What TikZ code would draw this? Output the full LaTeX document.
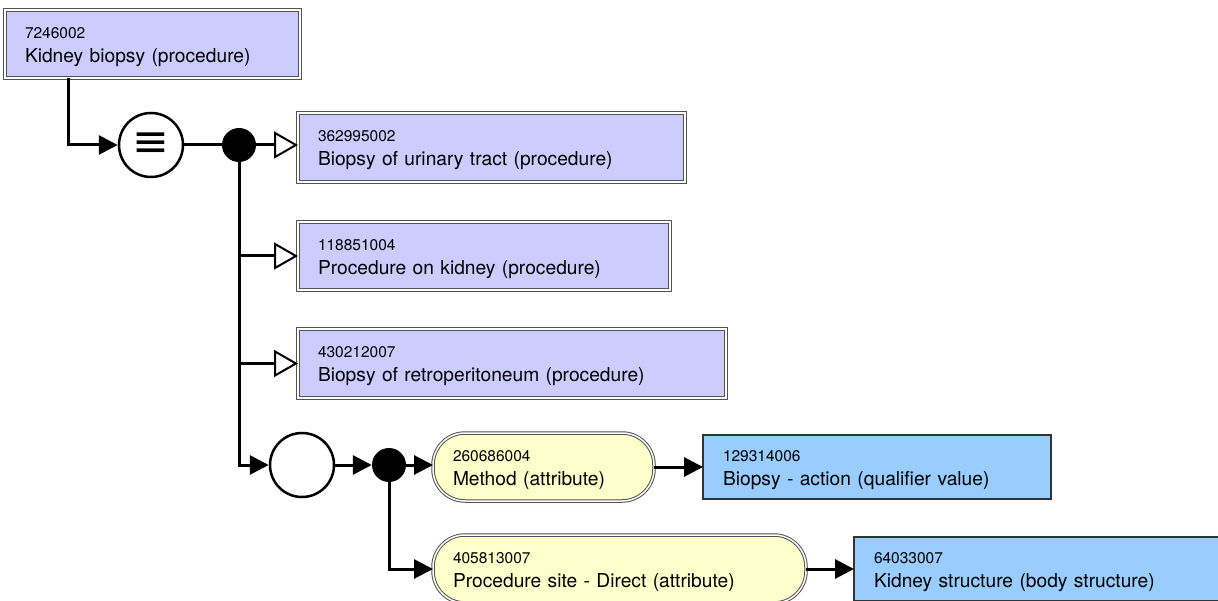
\documentclass[tikz,border=0pt]{standalone}
\usepackage{fontspec}
\setmainfont{TeX Gyre Heros}
\newfontfamily\symfont{DejaVu Sans}
\usepackage{tikz}
\usetikzlibrary{arrows.meta, positioning}

\definecolor{primfill}{HTML}{CCCCFF}
\definecolor{attrfill}{HTML}{FFFFCC}
\definecolor{valfill}{HTML}{99CCFF}
\definecolor{edgegray}{HTML}{333333}

\newcommand{\sctid}[2]{{\fontsize{15.5}{24}\selectfont\rule{0pt}{17pt}#1}\\#2}

\tikzset{
	box/.style = {anchor=north west, outer sep=0pt, inner xsep=20pt, inner ysep=0pt, align=left, font=\fontsize{19.2}{24}\selectfont},
	prim/.style = {box, fill=primfill, draw=edgegray!85, line width=1pt, double=white, double distance=1.5pt},
	attrib/.style = {prim, fill=attrfill, rounded corners=32pt},
	qval/.style = {box, fill=valfill, draw=edgegray, line width=2.5pt},
	conj/.style = {circle, draw, line width=2.5pt, fill=white, minimum size=64pt, inner sep=0pt},
	junc/.style = {circle, fill, minimum size=34pt, inner sep=0pt},
	link/.style = {line width=3pt, -{Triangle[length=19pt, width=19pt]}},
	isa/.style = {line width=3pt, -{Triangle[open, fill=white, length=24pt, width=27pt, line width=2pt]}}
}

\begin{document}
\begin{tikzpicture}[x=1pt, y=-1pt]
				\clip (0,0) rectangle (1218,601);
				\node[prim, text width=255pt, minimum height=68pt] (A) at (5,10) {\sctid{7246002}{Kidney biopsy (procedure)}};
				\node[prim, text width=347pt, minimum height=69pt] (B) at (298,113) {\sctid{362995002}{Biopsy of urinary tract (procedure)}};
				\node[prim, text width=332pt, minimum height=68pt] (C) at (298,222) {\sctid{118851004}{Procedure on kidney (procedure)}};
				\node[prim, text width=388pt, minimum height=69pt] (D) at (298,329) {\sctid{430212007}{Biopsy of retroperitoneum (procedure)}};
				\node[attrib, text width=181pt, minimum height=68pt] (E) at (433,433) {\sctid{260686004}{Method (attribute)}};
				\node[qval, text width=308pt, minimum height=64pt] (F) at (703,435) {\sctid{129314006}{Biopsy - action (qualifier value)}};
				\node[attrib, text width=333pt, minimum height=68pt] (G) at (433,535) {\sctid{405813007}{Procedure site - Direct (attribute)}};
				\node[qval, text width=350pt, minimum height=64pt] (H) at (854,537) {\sctid{64033007}{Kidney structure (body structure)}};
				
				\node[conj, font=\fontsize{44}{44}\symfont] (eqv) at (151,145) {≡};
				\node[junc] (d1) at (239,145) {};
				\node[conj] (cir) at (302,465) {};
				\node[junc] (d2) at (389,465) {};
				
				\draw[link] (A.south west) ++(63,0) |- (eqv);
				\draw[line width=3pt] (eqv) -- (d1);
				\draw[isa] (d1) -- (d1 -| B.west);
				\draw[isa] (d1) |- (C.west);
				\draw[isa] (d1) |- (D.west);
				\draw[link] (d1) |- (cir);
				\draw[link] (cir) -- (d2);
				\draw[link] (d2) -- (d2 -| E.west);
				\draw[link] (d2) |- (G.west);
				\draw[link] (E) -- (F);
				\draw[link] (G) -- (H);
			\end{tikzpicture}
\end{document}
